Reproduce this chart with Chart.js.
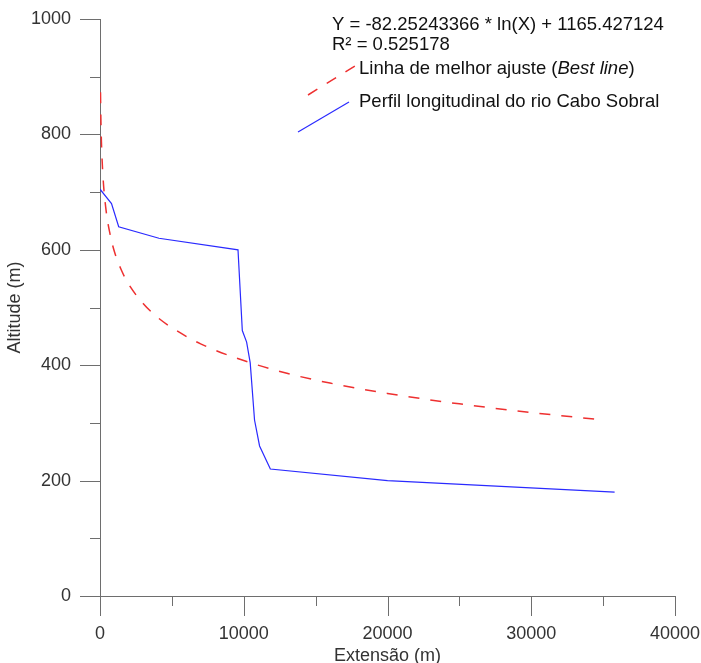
<!DOCTYPE html>
<html>
<head>
<meta charset="utf-8">
<script src="https://cdn.jsdelivr.net/npm/chart.js@4.4.0/dist/chart.umd.min.js"></script>
<style>
    html, body { margin: 0; padding: 0; background: #fff; }
    canvas { display: block; }
</style>
</head>
<body>
<canvas id="perfilChart" width="701" height="663"></canvas>
<script>
// =======================
// DADOS
// =======================

// Perfil longitudinal do rio Cabo Sobral
const extensaoPerfil = [0, 800, 1300, 4100, 9600, 9900, 10200, 10450, 10750, 11100, 11850, 20000, 35800];
const altitudePerfil = [705, 680, 640, 620, 600, 460, 440, 404, 305, 260, 220, 200, 180];

// Linha de melhor ajuste
const extensaoAjuste = [35, 60, 100, 200, 400, 700, 1000, 1500, 2000, 3000, 4000, 5000, 7000, 10000, 13000, 16000, 20000, 25000, 30000, 35000];
const altitudeAjuste = [873, 829, 787, 730, 673, 627, 597, 564, 540, 507, 483, 465, 437, 408, 386, 369, 351, 333, 318, 305];

const ticksX = [0, 10000, 20000, 30000, 40000];
const ticksY = [0, 200, 400, 600, 800, 1000];

const textoEquacao = "Y = -82.25243366 * ln(X) + 1165.427124";
const textoR2 = "R\u00B2 = 0.525178";
const textoAjuste = "Linha de melhor ajuste (";
const textoAjusteItalico = "Best line";
const textoPerfil = "Perfil longitudinal do rio Cabo Sobral";

const FONTE = "Liberation Sans, Arial, sans-serif";
const COR_TEXTO = "#333";
const COR_EIXO = "#6e6e6e";

function pares(xs, ys) {
    return xs.map((x, i) => ({ x: x, y: ys[i] }));
}

// Marcas dos eixos (maiores e menores)
const marcasEixos = {
    id: "marcasEixos",
    afterDraw(chart) {
        const ctx = chart.ctx;
        const sx = chart.scales.x;
        const sy = chart.scales.y;
        ctx.save();
        ctx.strokeStyle = COR_EIXO;
        ctx.lineWidth = 1;
        ctx.beginPath();
        sx.ticks.forEach(t => {
            const px = Math.round(sx.getPixelForValue(t.value)) + 0.5;
            const len = ticksX.includes(t.value) ? 20 : 10;
            ctx.moveTo(px, sy.bottom);
            ctx.lineTo(px, sy.bottom + len);
        });
        sy.ticks.forEach(t => {
            const py = Math.round(sy.getPixelForValue(t.value)) + 0.5;
            const len = ticksY.includes(t.value) ? 20 : 10;
            ctx.moveTo(sx.left, py);
            ctx.lineTo(sx.left - len, py);
        });
        ctx.stroke();
        ctx.restore();
    }
};

// Legenda com equação
const legendaEquacao = {
    id: "legendaEquacao",
    afterDraw(chart) {
        const ctx = chart.ctx;
        ctx.save();
        ctx.fillStyle = "#111";
        ctx.textBaseline = "alphabetic";
        ctx.font = `18.5px ${FONTE}`;
        ctx.fillText(textoEquacao, 332, 30);
        ctx.fillText(textoR2, 332, 50);
        ctx.fillText(textoAjuste, 359, 74);
        let w = ctx.measureText(textoAjuste).width;
        ctx.font = `italic 18.5px ${FONTE}`;
        ctx.fillText(textoAjusteItalico, 359 + w, 74);
        w += ctx.measureText(textoAjusteItalico).width;
        ctx.font = `18.5px ${FONTE}`;
        ctx.fillText(")", 359 + w, 74);
        ctx.fillText(textoPerfil, 359, 107);

        ctx.lineWidth = 1.5;
        ctx.strokeStyle = "#ee3030";
        ctx.setLineDash([11, 11]);
        ctx.beginPath();
        ctx.moveTo(308, 95);
        ctx.lineTo(355, 66);
        ctx.stroke();
        ctx.setLineDash([]);
        ctx.lineWidth = 1.2;
        ctx.strokeStyle = "#2a2aff";
        ctx.beginPath();
        ctx.moveTo(298, 132);
        ctx.lineTo(349, 102);
        ctx.stroke();
        ctx.restore();
    }
};

const ctx = document.getElementById("perfilChart").getContext("2d");

new Chart(ctx, {
    type: "line",
    data: {
        datasets: [
            {
                label: "Linha de melhor ajuste (Best line)",
                data: pares(extensaoAjuste, altitudeAjuste),
                borderColor: "#ee3030",
                borderWidth: 1.5,
                borderDash: [11, 11],
                pointRadius: 0,
                fill: false,
                cubicInterpolationMode: "monotone"
            },
            {
                label: "Perfil longitudinal do rio Cabo Sobral",
                data: pares(extensaoPerfil, altitudePerfil),
                borderColor: "#2a2aff",
                borderWidth: 1.2,
                pointRadius: 0,
                fill: false,
                tension: 0
            }
        ]
    },
    options: {
        responsive: false,
        animation: false,
        devicePixelRatio: 1,
        layout: { padding: { top: 19, right: 26, left: 0, bottom: 0 } },
        plugins: {
            legend: { display: false },
            tooltip: { enabled: false }
        },
        scales: {
            x: {
                type: "linear",
                min: 0,
                max: 40000,
                afterFit: s => {
                    s.height = 67;
                    s.paddingLeft = 0;
                    s.paddingRight = 0;
                },
                grid: { display: false, drawTicks: false, tickLength: 0 },
                border: { display: true, color: COR_EIXO, width: 1 },
                ticks: {
                    stepSize: 5000,
                    autoSkip: false,
                    maxRotation: 0,
                    padding: 27,
                    color: COR_TEXTO,
                    font: { family: FONTE, size: 18 },
                    callback: v => ticksX.includes(v) ? String(v) : ""
                },
                title: {
                    display: true,
                    text: "Extensão (m)",
                    color: COR_TEXTO,
                    font: { family: FONTE, size: 18, lineHeight: 0.8 },
                    padding: { top: 0, bottom: 0 }
                }
            },
            y: {
                type: "linear",
                min: 0,
                max: 1000,
                afterFit: s => {
                    s.width = 100;
                    s.paddingTop = 0;
                    s.paddingBottom = 0;
                },
                grid: { display: false, drawTicks: false, tickLength: 0 },
                border: { display: true, color: COR_EIXO, width: 1 },
                ticks: {
                    stepSize: 100,
                    autoSkip: false,
                    padding: 29,
                    color: COR_TEXTO,
                    font: { family: FONTE, size: 18 },
                    callback: v => ticksY.includes(v) ? String(v) : ""
                },
                title: {
                    display: true,
                    text: "Altitude (m)",
                    color: COR_TEXTO,
                    font: { family: FONTE, size: 18, lineHeight: 1.2 },
                    padding: { top: 4, bottom: 0 }
                }
            }
        }
    },
    plugins: [marcasEixos, legendaEquacao]
});
</script>
</body>
</html>
